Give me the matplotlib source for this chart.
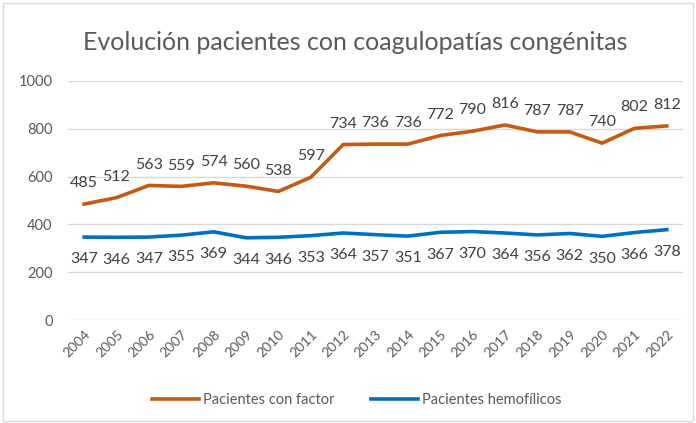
import matplotlib.pyplot as plt
from matplotlib.patches import Rectangle

plt.rcParams['font.family'] = ['Lato', 'DejaVu Sans']

# datos
años = [str(a) for a in range(2004, 2023)]
con_factor = [485, 512, 563, 559, 574, 560, 538, 597, 734, 736, 736, 772, 790, 816, 787, 787, 740, 802, 812]
hemofilicos = [347, 346, 347, 355, 369, 344, 346, 353, 364, 357, 351, 367, 370, 364, 356, 362, 350, 366, 378]

naranja = '#C55A11'
azul = '#0070C0'
gris = '#595959'

fig = plt.figure(figsize=(6.96, 4.23), dpi=100)
ax = fig.add_axes([68 / 696, 1 - 320 / 423, 615 / 696, 239 / 423])

x = list(range(len(años)))
ax.plot(x, con_factor, color=naranja, lw=2.6, solid_joinstyle='round', label='Pacientes con factor')
ax.plot(x, hemofilicos, color=azul, lw=2.6, solid_joinstyle='round', label='Pacientes hemofílicos')

for i, v in enumerate(con_factor):
    ax.annotate(str(v), (i, v), xytext=(0, 10), textcoords='offset points',
                ha='center', va='bottom', fontsize=11.5, color='#404040')
for i, v in enumerate(hemofilicos):
    ax.annotate(str(v), (i, v), xytext=(0, -11), textcoords='offset points',
                ha='center', va='top', fontsize=11.5, color='#404040')

ax.set_xlim(-0.5, len(años) - 0.5)
ax.set_ylim(0, 1000)
ax.set_yticks(range(0, 1001, 200))
ax.set_xticks(x)
ax.set_xticklabels(años, rotation=45, ha='right', rotation_mode='anchor')
ax.tick_params(axis='y', length=0, labelsize=10.5, colors=gris, pad=11)
ax.tick_params(axis='x', length=0, labelsize=10, colors=gris, pad=6)
ax.grid(axis='y', color='#D9D9D9', lw=1)
ax.set_axisbelow(True)
for s in ax.spines.values():
    s.set_visible(False)

fig.text(355 / 696, 1 - 42 / 423, 'Evolución pacientes con coagulopatías congénitas',
         ha='center', va='center', fontsize=18, color=gris)

fig.legend(loc='center', bbox_to_anchor=(357 / 696, 1 - 400 / 423), ncol=2, frameon=False,
           fontsize=10.5, labelcolor=gris, handlelength=3.2, handletextpad=0.3, columnspacing=2.5)

# marco del gráfico
fig.patches.append(Rectangle((3 / 696, 2 / 423), 690 / 696, 418 / 423, transform=fig.transFigure,
                             fill=False, edgecolor='#D9D9D9', lw=1))

fig.savefig('out.png', dpi=100)
